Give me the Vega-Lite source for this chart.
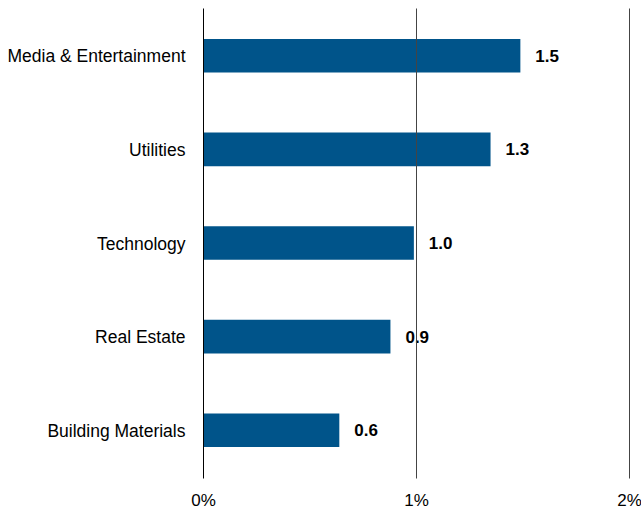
{
  "$schema": "https://vega.github.io/schema/vega-lite/v6.json",
  "width": 426,
  "height": 470,
  "autosize": {"type": "none"},
  "padding": {"left": 203, "top": 8, "right": 12, "bottom": 35},
  "background": "white",
  "config": {"view": {"stroke": null}, "font": "Liberation Sans"},
  "data": {
    "values": [
      {"sector": "Media & Entertainment", "value": 1.49, "label": "1.5"},
      {"sector": "Utilities", "value": 1.35, "label": "1.3"},
      {"sector": "Technology", "value": 0.99, "label": "1.0"},
      {"sector": "Real Estate", "value": 0.88, "label": "0.9"},
      {"sector": "Building Materials", "value": 0.64, "label": "0.6"}
    ]
  },
  "encoding": {
    "y": {
      "field": "sector",
      "type": "nominal",
      "sort": null,
      "scale": {"paddingInner": 0.64, "paddingOuter": 0.33},
      "axis": {"title": null, "ticks": false, "domain": false, "labelFontSize": 17.5, "labelColor": "black", "labelPadding": 18, "labelOffset": 1.5, "labelFont": "Liberation Sans"}
    },
    "x": {
      "field": "value",
      "type": "quantitative",
      "scale": {"domain": [0, 2], "nice": false},
      "axis": {
        "title": null,
        "values": [0, 1, 2],
        "labelExpr": "datum.value + '%'",
        "ticks": false,
        "domain": false,
        "grid": true,
        "gridColor": {"condition": {"test": "datum.value == 0", "value": "black"}, "value": "#444"},
        "gridOpacity": 1,
        "gridWidth": 1,
        "zindex": 1,
        "labelFontSize": 17,
        "labelColor": "black",
        "labelPadding": 14,
        "labelFont": "Liberation Sans",
        "labelFlush": false
      }
    }
  },
  "layer": [
    {"mark": {"type": "bar", "color": "#00548A"}},
    {
      "mark": {"type": "text", "align": "left", "dx": 15, "dy": 1, "fontSize": 17, "fontWeight": "bold", "color": "black", "font": "Liberation Sans"},
      "encoding": {"text": {"field": "label", "type": "nominal"}}
    }
  ]
}
